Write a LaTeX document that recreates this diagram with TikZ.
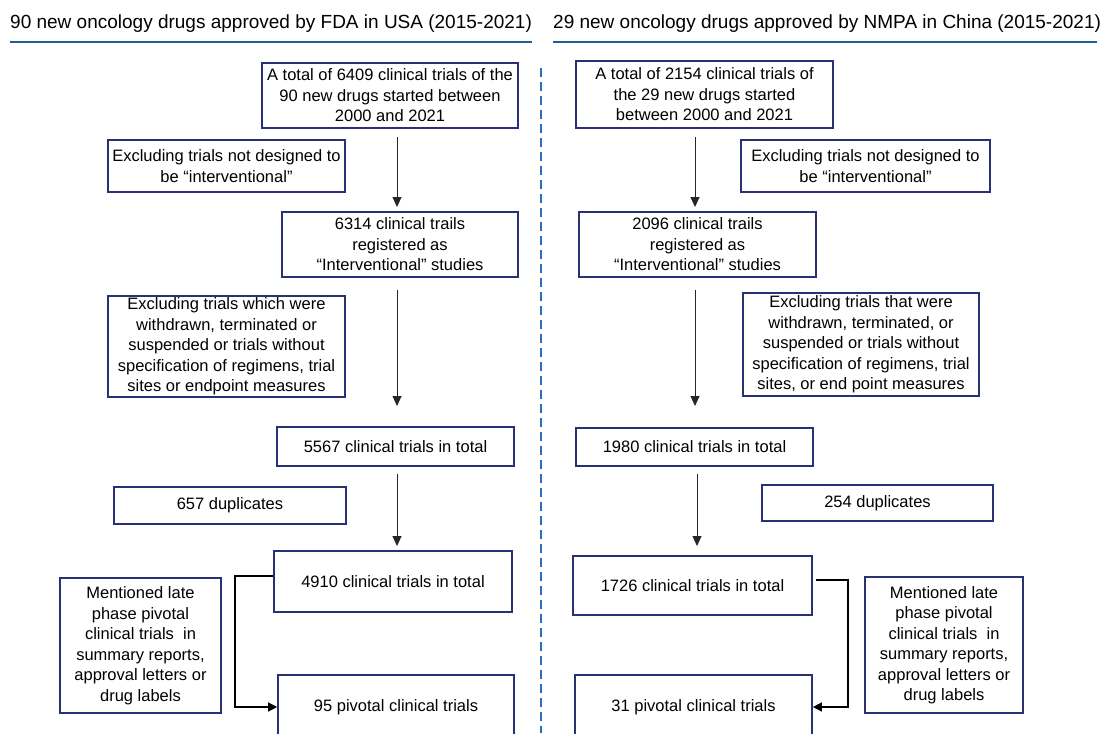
\documentclass[tikz,border=0pt]{standalone}
\usepackage{fontspec}
\setmainfont{Liberation Sans}
\usetikzlibrary{arrows.meta}
\definecolor{boxcol}{RGB}{40,48,118}
\definecolor{titleline}{RGB}{32,92,150}
\definecolor{dashcol}{RGB}{40,112,190}
\newcommand\mybox[6]{\node[boxst, minimum width={#4-#2}, minimum height={#5-#3}] (#1) at ({(#2+#4)/2},{(#3+#5)/2}) {#6};}
\begin{document}
\begin{tikzpicture}[x=1pt,y=-1pt,
  boxst/.style={draw=boxcol, line width=1.6pt, rectangle, inner sep=0pt, align=center,
    font=\fontsize{16.5}{20.5}\selectfont},
  titlest/.style={anchor=base west, inner sep=0pt, font=\fontsize{19}{22}\selectfont},
  arr/.style={draw=black!85, line width=0.9pt, -{Triangle[width=9pt,length=10pt]}},
  elbow/.style={draw=black, line width=1.3pt, -{Triangle[width=9pt,length=9pt]}}]
\useasboundingbox (0,0) rectangle (1107,733);
% titles
\node[titlest] (tl) at (10,29) {90 new oncology drugs approved by FDA in USA (2015-2021)};
\node[titlest] (tr) at (553,29) {29 new oncology drugs approved by NMPA in China (2015-2021)};
\draw[titleline, line width=2.5pt] (10,42) -- (532,42);
\draw[titleline, line width=2.5pt] (553,42) -- (1097,42);
% divider
\draw[dashcol, line width=2pt, dash pattern=on 9pt off 5pt] (541,68) -- (541,733);
% left column
\mybox{A1}{262}{63}{518}{128}{A total of 6409 clinical trials of the\\90 new drugs started between\\2000 and 2021}
\mybox{E1}{108}{140}{345}{192}{Excluding trials not designed to\\be “interventional”}
\mybox{B1}{282}{212}{518}{277}{6314 clinical trails\\registered as\\“Interventional” studies}
\mybox{E2}{108}{296}{345}{397}{Excluding trials which were\\withdrawn, terminated or\\suspended or trials without\\specification of regimens, trial\\sites or endpoint measures}
\mybox{C1}{277}{427}{514}{466}{5567 clinical trials in total}
\mybox{D1}{114}{487}{346}{524}{657 duplicates}
\mybox{F1}{274}{551}{512}{612}{4910 clinical trials in total}
\mybox{M1}{60}{578}{221}{713}{Mentioned late\\phase pivotal\\clinical trials~ in\\summary reports,\\approval letters or\\drug labels}
\mybox{G1}{278}{675}{514}{740}{95 pivotal clinical trials}
\coordinate (a1s) at (397,137); \coordinate (a1e) at (397,207);
\coordinate (a2s) at (397,290); \coordinate (a2e) at (397,406);
\coordinate (a3s) at (397,474); \coordinate (a3e) at (397,546);
\draw[arr] (a1s) -- (a1e);
\draw[arr] (a2s) -- (a2e);
\draw[arr] (a3s) -- (a3e);
\draw[elbow] ([yshift=5.5pt]F1.west) -- (235,576) -- (235,707) -- (G1.west |- 0,707);
% right column
\mybox{A2}{576}{61}{833}{128}{A total of 2154 clinical trials of\\the 29 new drugs started\\between 2000 and 2021}
\mybox{E3}{741}{140}{990}{192}{Excluding trials not designed to\\be “interventional”}
\mybox{B2}{579}{212}{816}{277}{2096 clinical trails\\registered as\\“Interventional” studies}
\mybox{E4}{743}{293}{979}{396}{Excluding trials that were\\withdrawn, terminated, or\\suspended or trials without\\specification of regimens, trial\\sites, or end point measures}
\mybox{C2}{576}{428}{813}{466}{1980 clinical trials in total}
\mybox{D2}{762}{485}{993}{521}{254 duplicates}
\mybox{F2}{573}{556}{812}{615}{1726 clinical trials in total}
\mybox{M2}{865}{577}{1023}{713}{Mentioned late\\phase pivotal\\clinical trials~ in\\summary reports,\\approval letters or\\drug labels}
\mybox{G2}{575}{675}{812}{740}{31 pivotal clinical trials}
\coordinate (b1s) at (695,137); \coordinate (b1e) at (695,207);
\coordinate (b2s) at (695,290); \coordinate (b2e) at (695,406);
\coordinate (b3s) at (697,474); \coordinate (b3e) at (697,546);
\draw[arr] (b1s) -- (b1e);
\draw[arr] (b2s) -- (b2e);
\draw[arr] (b3s) -- (b3e);
\draw[elbow] ([yshift=5.5pt,xshift=3pt]F2.east) -- (848,580) -- (848,707) -- (G2.east |- 0,707);
\end{tikzpicture}
\end{document}
